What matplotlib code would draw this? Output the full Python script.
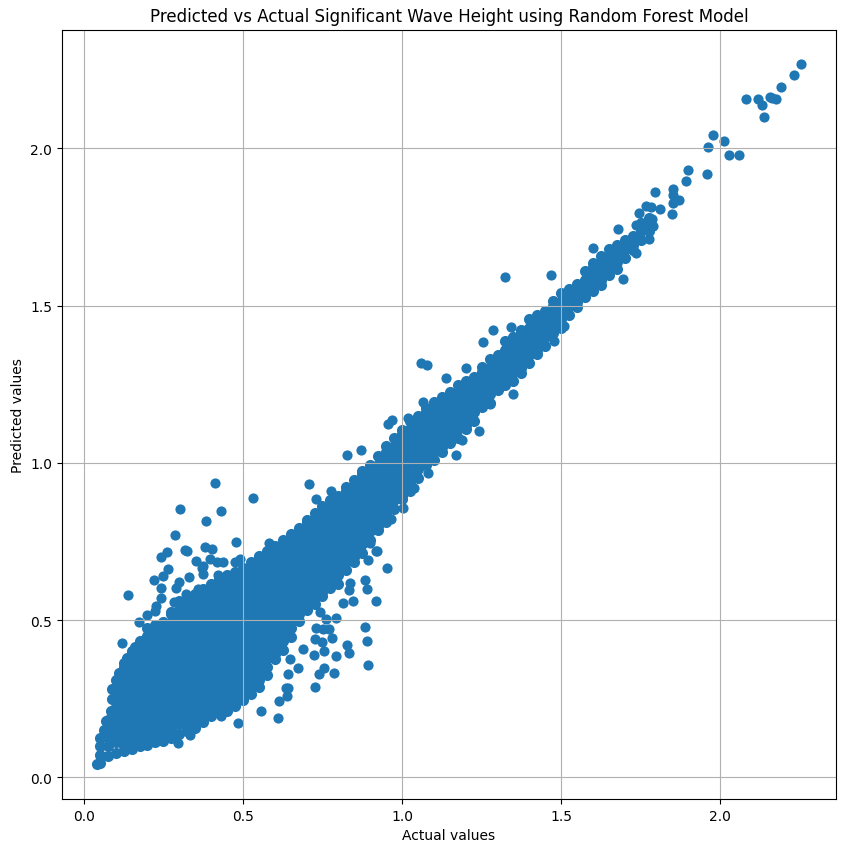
import matplotlib
matplotlib.use("Agg")
import matplotlib.pyplot as plt
import numpy as np

# ---- dense core of the cloud: one column per actual value, listed predicted values ----
core_actual = [0.050, 0.075, 0.100, 0.125, 0.150, 0.175, 0.200, 0.225, 0.250, 0.275,
               0.300, 0.325, 0.350, 0.375, 0.400, 0.425, 0.450, 0.475, 0.500, 0.525,
               0.550, 0.575, 0.600, 0.625, 0.650, 0.675, 0.700, 0.725, 0.750, 0.775,
               0.800, 0.825, 0.850, 0.875, 0.900, 0.925, 0.950, 0.975, 1.000, 1.025,
               1.050, 1.075, 1.100, 1.125, 1.150, 1.175, 1.200, 1.225, 1.250, 1.275,
               1.300, 1.325, 1.350, 1.375, 1.400, 1.425, 1.450, 1.475, 1.500, 1.525,
               1.550, 1.575, 1.600, 1.625, 1.650, 1.675, 1.700, 1.725, 1.750, 1.775]

core_predicted = [
    [0.045, 0.070, 0.100, 0.125],
    [0.066, 0.098, 0.126, 0.154, 0.182],
    [0.076, 0.112, 0.140, 0.168, 0.196, 0.224, 0.252, 0.280, 0.308],
    [0.084, 0.098, 0.126, 0.154, 0.182, 0.210, 0.238, 0.266, 0.294, 0.322, 0.350, 0.362],
    [0.091, 0.112, 0.140, 0.168, 0.196, 0.224, 0.252, 0.280, 0.308, 0.336, 0.364, 0.392, 0.400],
    [0.099, 0.126, 0.154, 0.182, 0.210, 0.238, 0.266, 0.294, 0.322, 0.350, 0.378, 0.406, 0.434],
    [0.104, 0.112, 0.140, 0.168, 0.196, 0.224, 0.252, 0.280, 0.308, 0.336, 0.364, 0.392, 0.420, 0.448, 0.474],
    [0.111, 0.126, 0.154, 0.182, 0.210, 0.238, 0.266, 0.294, 0.322, 0.350, 0.378, 0.406, 0.434, 0.462, 0.484],
    [0.116, 0.140, 0.168, 0.196, 0.224, 0.252, 0.280, 0.308, 0.336, 0.364, 0.392, 0.420, 0.448, 0.476, 0.494],
    [0.126, 0.154, 0.182, 0.210, 0.238, 0.266, 0.294, 0.322, 0.350, 0.378, 0.406, 0.434, 0.462, 0.490, 0.518, 0.524],
    [0.136, 0.168, 0.196, 0.224, 0.252, 0.280, 0.308, 0.336, 0.364, 0.392, 0.420, 0.448, 0.476, 0.504, 0.532, 0.559],
    [0.146, 0.154, 0.182, 0.210, 0.238, 0.266, 0.294, 0.322, 0.350, 0.378, 0.406, 0.434, 0.462, 0.490, 0.518, 0.546, 0.574],
    [0.156, 0.168, 0.196, 0.224, 0.252, 0.280, 0.308, 0.336, 0.364, 0.392, 0.420, 0.448, 0.476, 0.504, 0.532, 0.560, 0.584],
    [0.176, 0.182, 0.210, 0.238, 0.266, 0.294, 0.322, 0.350, 0.378, 0.406, 0.434, 0.462, 0.490, 0.518, 0.546, 0.574, 0.599],
    [0.196, 0.224, 0.252, 0.280, 0.308, 0.336, 0.364, 0.392, 0.420, 0.448, 0.476, 0.504, 0.532, 0.560, 0.588, 0.614],
    [0.206, 0.210, 0.238, 0.266, 0.294, 0.322, 0.350, 0.378, 0.406, 0.434, 0.462, 0.490, 0.518, 0.546, 0.574, 0.602, 0.629],
    [0.211, 0.224, 0.252, 0.280, 0.308, 0.336, 0.364, 0.392, 0.420, 0.448, 0.476, 0.504, 0.532, 0.560, 0.588, 0.616, 0.644],
    [0.226, 0.238, 0.266, 0.294, 0.322, 0.350, 0.378, 0.406, 0.434, 0.462, 0.490, 0.518, 0.546, 0.574, 0.602, 0.630, 0.654],
    [0.246, 0.252, 0.280, 0.308, 0.336, 0.364, 0.392, 0.420, 0.448, 0.476, 0.504, 0.532, 0.560, 0.588, 0.616, 0.644, 0.664],
    [0.266, 0.294, 0.322, 0.350, 0.378, 0.406, 0.434, 0.462, 0.490, 0.518, 0.546, 0.574, 0.602, 0.630, 0.658, 0.684],
    [0.286, 0.308, 0.336, 0.364, 0.392, 0.420, 0.448, 0.476, 0.504, 0.532, 0.560, 0.588, 0.616, 0.644, 0.672, 0.700, 0.704],
    [0.326, 0.350, 0.378, 0.406, 0.434, 0.462, 0.490, 0.518, 0.546, 0.574, 0.602, 0.630, 0.658, 0.686, 0.714, 0.719],
    [0.376, 0.392, 0.420, 0.448, 0.476, 0.504, 0.532, 0.560, 0.588, 0.616, 0.644, 0.672, 0.700, 0.728, 0.734],
    [0.406, 0.434, 0.462, 0.490, 0.518, 0.546, 0.574, 0.602, 0.630, 0.658, 0.686, 0.714, 0.742, 0.754],
    [0.446, 0.476, 0.504, 0.532, 0.560, 0.588, 0.616, 0.644, 0.672, 0.700, 0.728, 0.756, 0.774],
    [0.496, 0.518, 0.546, 0.574, 0.602, 0.630, 0.658, 0.686, 0.714, 0.742, 0.770, 0.794],
    [0.532, 0.560, 0.588, 0.616, 0.644, 0.672, 0.700, 0.728, 0.756, 0.784, 0.812, 0.819],
    [0.551, 0.574, 0.602, 0.630, 0.658, 0.686, 0.714, 0.742, 0.770, 0.798, 0.826, 0.839],
    [0.576, 0.588, 0.616, 0.644, 0.672, 0.700, 0.728, 0.756, 0.784, 0.812, 0.840, 0.864],
    [0.602, 0.630, 0.658, 0.686, 0.714, 0.742, 0.770, 0.798, 0.826, 0.854, 0.882],
    [0.616, 0.644, 0.672, 0.700, 0.728, 0.756, 0.784, 0.812, 0.840, 0.868, 0.896],
    [0.658, 0.686, 0.714, 0.742, 0.770, 0.798, 0.826, 0.854, 0.882, 0.910, 0.924],
    [0.686, 0.700, 0.728, 0.756, 0.784, 0.812, 0.840, 0.868, 0.896, 0.924, 0.944],
    [0.714, 0.742, 0.770, 0.798, 0.826, 0.854, 0.882, 0.910, 0.938, 0.966, 0.974],
    [0.756, 0.784, 0.812, 0.840, 0.868, 0.896, 0.924, 0.952, 0.980, 0.994],
    [0.786, 0.798, 0.826, 0.854, 0.882, 0.910, 0.938, 0.966, 0.994, 1.022],
    [0.812, 0.840, 0.868, 0.896, 0.924, 0.952, 0.980, 1.008, 1.036, 1.054],
    [0.854, 0.882, 0.910, 0.938, 0.966, 0.994, 1.022, 1.050, 1.078],
    [0.886, 0.896, 0.924, 0.952, 0.980, 1.008, 1.036, 1.064, 1.092, 1.104],
    [0.910, 0.938, 0.966, 0.994, 1.022, 1.050, 1.078, 1.106, 1.134],
    [0.952, 0.980, 1.008, 1.036, 1.064, 1.092, 1.120, 1.148],
    [0.994, 1.022, 1.050, 1.078, 1.106, 1.134, 1.162, 1.174],
    [1.008, 1.036, 1.064, 1.092, 1.120, 1.148, 1.176, 1.194],
    [1.036, 1.050, 1.078, 1.106, 1.134, 1.162, 1.190, 1.209],
    [1.064, 1.092, 1.120, 1.148, 1.176, 1.204, 1.224],
    [1.078, 1.106, 1.134, 1.162, 1.190, 1.218, 1.246],
    [1.106, 1.120, 1.148, 1.176, 1.204, 1.232, 1.260],
    [1.134, 1.162, 1.190, 1.218, 1.246, 1.274],
    [1.176, 1.204, 1.232, 1.260, 1.288, 1.304],
    [1.190, 1.218, 1.246, 1.274, 1.302, 1.330],
    [1.232, 1.260, 1.288, 1.316, 1.344],
    [1.246, 1.274, 1.302, 1.330, 1.358, 1.386],
    [1.260, 1.288, 1.316, 1.344, 1.372, 1.400],
    [1.286, 1.302, 1.330, 1.358, 1.386, 1.414, 1.424],
    [1.316, 1.344, 1.372, 1.400, 1.428, 1.456],
    [1.346, 1.358, 1.386, 1.414, 1.442, 1.470],
    [1.372, 1.400, 1.428, 1.456, 1.484],
    [1.414, 1.442, 1.470, 1.498, 1.514],
    [1.428, 1.456, 1.484, 1.512, 1.540],
    [1.470, 1.498, 1.526, 1.554],
    [1.496, 1.512, 1.540, 1.568],
    [1.526, 1.554, 1.582, 1.610],
    [1.546, 1.568, 1.596, 1.624, 1.634],
    [1.566, 1.582, 1.610, 1.638, 1.659],
    [1.596, 1.624, 1.652, 1.680],
    [1.616, 1.638, 1.666, 1.694],
    [1.652, 1.680, 1.708],
    [1.676, 1.694, 1.722],
    [1.708, 1.736, 1.764],
    [1.736, 1.750, 1.778],
]

# ---- points along the left edge of the low-value mass ----
edge_actual = [0.042, 0.062, 0.070, 0.084, 0.088, 0.089, 0.110, 0.135, 0.160]
edge_predicted = [0.042, 0.150, 0.180, 0.210, 0.250, 0.280, 0.330, 0.380, 0.415]

# ---- scattered points around the core ----
outlier_actual = [
    0.411, 0.532, 0.301, 0.432, 0.383, 0.288, 0.477, 0.380, 0.404, 0.317, 0.324,
    0.260, 0.242, 0.351, 0.373, 0.396, 0.417, 0.437, 0.474, 0.490, 0.265, 0.249, 0.220,
    0.331, 0.373, 0.299, 0.289, 0.244, 0.139, 0.359, 0.241, 0.322, 0.354, 0.228, 0.283,
    0.223, 0.197, 0.174, 0.422, 0.582, 0.370, 0.119,
    0.952, 0.893, 0.885, 0.889, 0.917, 0.835, 0.833, 0.846, 0.814, 0.885, 0.889, 0.893,
    0.827, 0.833, 0.791, 0.772, 0.779, 0.791, 0.754, 0.722, 0.747, 0.754, 0.739, 0.787,
    0.728, 0.673, 0.641, 0.636, 0.613, 0.610, 0.558, 0.647, 0.689, 0.725, 0.751, 0.731,
    0.762, 0.741, 0.641, 0.638, 0.919, 0.485, 0.432, 0.335, 0.296,
    0.707, 0.731, 0.778, 0.827, 0.872, 0.966, 1.003, 1.039, 1.081, 0.921, 0.898, 0.955,
    0.969, 1.018, 1.065, 1.060, 1.079, 1.254, 1.137, 1.202, 1.241, 1.168, 1.189, 1.275,
    1.325, 1.467, 1.285, 1.341, 1.510, 1.476, 1.348, 1.695, 1.735, 1.601, 1.678, 1.735,
    1.788, 1.786, 1.777, 1.767, 1.782, 1.746, 1.809, 1.796, 1.850, 1.852, 1.871, 1.850,
    1.848, 1.897, 1.892, 1.958, 1.960, 1.976, 2.011, 2.028, 2.058, 2.081, 2.117, 2.131,
    2.138, 2.156, 2.175, 2.164, 2.190, 2.232, 2.253,
]
outlier_predicted = [
    0.935, 0.889, 0.854, 0.848, 0.816, 0.772, 0.747, 0.733, 0.725, 0.722, 0.719,
    0.716, 0.702, 0.687, 0.672, 0.695, 0.683, 0.685, 0.683, 0.695, 0.661, 0.640, 0.626,
    0.636, 0.645, 0.621, 0.603, 0.603, 0.581, 0.600, 0.571, 0.582, 0.576, 0.545, 0.557,
    0.529, 0.515, 0.494, 0.642, 0.744, 0.667, 0.428,
    0.664, 0.691, 0.627, 0.600, 0.562, 0.619, 0.596, 0.560, 0.555, 0.479, 0.432, 0.356,
    0.420, 0.394, 0.505, 0.473, 0.443, 0.384, 0.401, 0.388, 0.430, 0.348, 0.327, 0.333,
    0.288, 0.348, 0.327, 0.285, 0.242, 0.187, 0.211, 0.375, 0.407, 0.439, 0.471, 0.476,
    0.502, 0.524, 0.283, 0.259, 0.718, 0.172, 0.195, 0.134, 0.110,
    0.932, 0.884, 0.910, 1.024, 1.041, 0.820, 0.857, 0.921, 0.967, 0.720, 0.744, 1.122,
    1.136, 1.144, 1.193, 1.316, 1.312, 1.384, 1.271, 1.303, 1.100, 1.026, 1.072, 1.186,
    1.592, 1.598, 1.424, 1.432, 1.435, 1.389, 1.218, 1.586, 1.666, 1.684, 1.745, 1.758,
    1.753, 1.776, 1.711, 1.817, 1.814, 1.795, 1.808, 1.862, 1.870, 1.851, 1.836, 1.827,
    1.790, 1.930, 1.896, 1.919, 2.005, 2.043, 2.025, 1.978, 1.980, 2.156, 2.156, 2.137,
    2.100, 2.163, 2.156, 2.161, 2.196, 2.234, 2.267,
]

title = "Predicted vs Actual Significant Wave Height using Random Forest Model"
x_label = "Actual values"
y_label = "Predicted values"

# ---- assemble ----
core_x = []
core_y = []
for xa, ys in zip(core_actual, core_predicted):
    for yv in ys:
        core_x.append(xa)
        core_y.append(yv)
core_x = np.array(core_x + edge_actual)
core_y = np.array(core_y + edge_predicted)

fig = plt.figure(figsize=(8.46, 8.53), dpi=100)
ax = fig.add_axes([62 / 846, 53 / 853, 774 / 846, 769.5 / 853])
ax.scatter(core_x, core_y, color="#1f77b4", s=64, linewidths=0)
ax.scatter(outlier_actual, outlier_predicted, color="#1f77b4", s=54, linewidths=0)
ax.set_title(title)
ax.set_xlabel(x_label)
ax.set_ylabel(y_label)
ax.grid(True)
fig.savefig("out.png", dpi=100)
